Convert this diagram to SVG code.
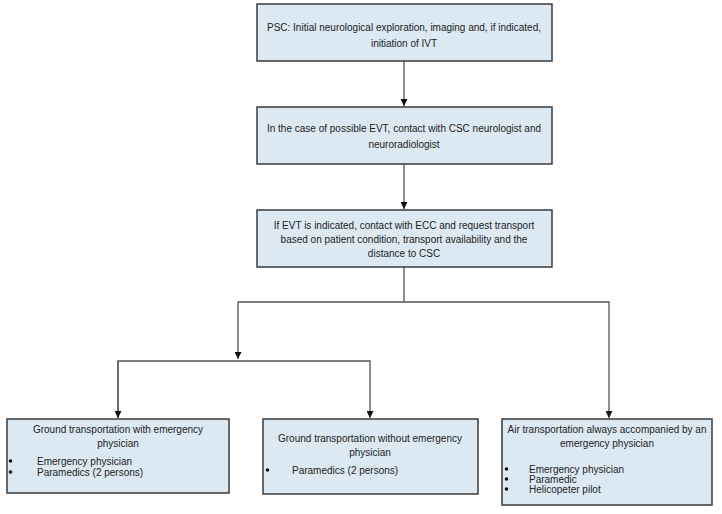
<svg xmlns="http://www.w3.org/2000/svg" width="722" height="514" viewBox="0 0 722 514">
<style>
.box{fill:#dce9f2;stroke:#3a3a3a;stroke-width:1.5}
.t{font-family:"Liberation Sans",Arial,sans-serif;font-size:10px;fill:#222}
.c{text-anchor:middle}
.b{fill:#111}
.ln{fill:none;stroke:#555;stroke-width:1.3}
</style>
<defs>
<marker id="ah" viewBox="0 0 10 10" refX="10" refY="5" markerWidth="7" markerHeight="7" markerUnits="userSpaceOnUse" orient="auto">
<path d="M0,0 L10,5 L0,10 z" fill="#111"/>
</marker>
</defs>
<rect width="722" height="514" fill="#fff"/>
<g id="connectors">
<path class="ln" d="M404,61 V106" marker-end="url(#ah)"/>
<path class="ln" d="M404,164 V209" marker-end="url(#ah)"/>
<path class="ln" d="M404,267 V302"/>
<path class="ln" d="M238,302 H609 V418" marker-end="url(#ah)"/>
<path class="ln" d="M238,302 V359" marker-end="url(#ah)"/>
<path class="ln" d="M118,418 V361 H370 V418" marker-end="url(#ah)"/>
<path class="ln" d="M118,361 V418" marker-end="url(#ah)"/>
</g>
<g id="n1">
<rect class="box" x="257" y="4" width="295" height="57"/>
<text class="t c" x="404" y="30.5">PSC: Initial neurological exploration, imaging and, if indicated,</text>
<text class="t c" x="404" y="46.5">initiation of IVT</text>
</g>
<g id="n2">
<rect class="box" x="257" y="107" width="295" height="57"/>
<text class="t c" x="404" y="131.5">In the case of possible EVT, contact with CSC neurologist and</text>
<text class="t c" x="404" y="147.5">neuroradiologist</text>
</g>
<g id="n3">
<rect class="box" x="257" y="210" width="295" height="57"/>
<text class="t c" x="404" y="228.5">If EVT is indicated, contact with ECC and request transport</text>
<text class="t c" x="404" y="242.5">based on patient condition, transport availability and the</text>
<text class="t c" x="404" y="256.5">distance to CSC</text>
</g>
<g id="n4">
<rect class="box" x="7" y="419" width="222" height="74"/>
<text class="t c" x="118" y="432.5">Ground transportation with emergency</text>
<text class="t c" x="118" y="446.5">physician</text>
<circle class="b" cx="10.5" cy="461" r="1.8"/>
<text class="t" x="37" y="464.5">Emergency physician</text>
<circle class="b" cx="10.5" cy="472" r="1.8"/>
<text class="t" x="37" y="475.5">Paramedics (2 persons)</text>
</g>
<g id="n5">
<rect class="box" x="263" y="419" width="215" height="75"/>
<text class="t c" x="370" y="441.5">Ground transportation without emergency</text>
<text class="t c" x="370" y="455.5">physician</text>
<circle class="b" cx="267.5" cy="470" r="1.8"/>
<text class="t" x="292" y="473.5">Paramedics (2 persons)</text>
</g>
<g id="n6">
<rect class="box" x="502" y="419" width="210" height="86"/>
<text class="t c" x="607" y="432.5">Air transportation always accompanied by an</text>
<text class="t c" x="607" y="446.5">emergency physician</text>
<circle class="b" cx="506.5" cy="469" r="1.8"/>
<text class="t" x="529" y="472.5">Emergency physician</text>
<circle class="b" cx="506.5" cy="479" r="1.8"/>
<text class="t" x="529" y="482.5">Paramedic</text>
<circle class="b" cx="506.5" cy="489" r="1.8"/>
<text class="t" x="529" y="492.5">Helicopeter pilot</text>
</g>
</svg>
